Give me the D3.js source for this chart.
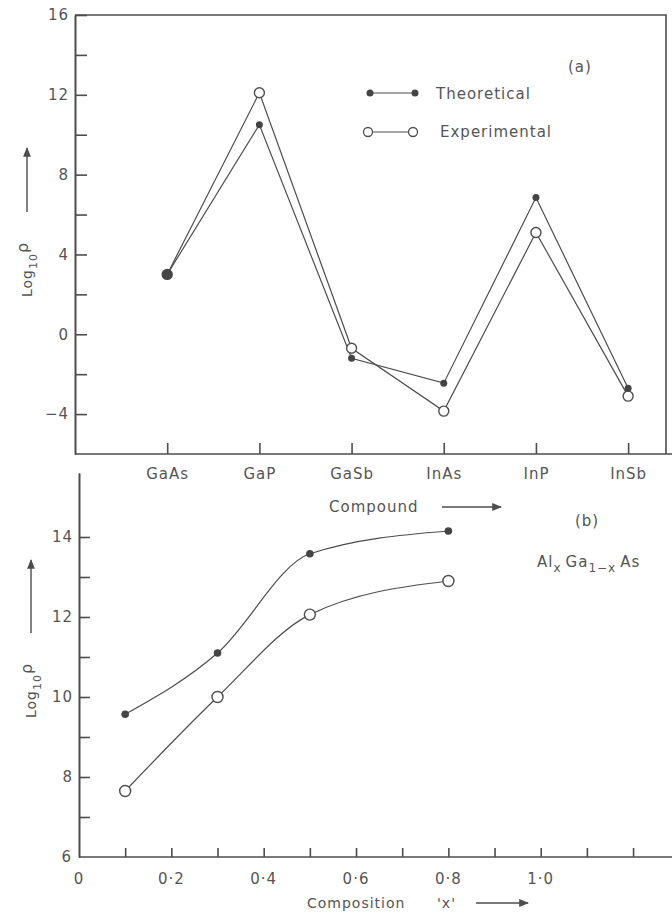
<!DOCTYPE html>
<html>
  <head>
    <meta charset="utf-8">
    <title>Log rho chart</title>
    <script src="https://d3js.org/d3.v7.min.js"></script>
    <style>
      body { margin: 0; background: #fff; }
      text { font-family: "DejaVu Sans", sans-serif; fill: #555; letter-spacing: 1px; }
    </style>
  </head>

  <body>
    <div class="chart"></div>

    <script>
      // panel (a) data
      const compounds = ["GaAs", "GaP", "GaSb", "InAs", "InP", "InSb"];
      const theoA = [3.0, 10.5, -1.2, -2.45, 6.85, -2.7];
      const expA = [3.0, 12.1, -0.7, -3.85, 5.1, -3.1];
      const majorA = [-4, 0, 4, 8, 12, 16];
      const minorA = [-2, 2, 6, 10, 14];

      // panel (b) data
      const compX = [0.1, 0.3, 0.5, 0.8];
      const theoB = [9.57, 11.1, 13.58, 14.15];
      const expB = [7.65, 10.0, 12.06, 12.9];
      const majorB = [8, 10, 12, 14];
      const minorB = [7, 9, 11, 13];
      const xTicksB = [0.1, 0.2, 0.3, 0.4, 0.5, 0.6, 0.7, 0.8, 0.9, 1.0, 1.1, 1.2];
      const xLabelsB = [0.2, 0.4, 0.6, 0.8, 1.0];

      const ink = "#4d4d4d";

      var svg = d3.select("div.chart").append("svg")
        .attr("width", 672)
        .attr("height", 915)

      svg.append("defs").append("marker")
        .attr("id", "arr")
        .attr("viewBox", "0 0 10 10")
        .attr("refX", 9).attr("refY", 5)
        .attr("markerWidth", 7).attr("markerHeight", 7)
        .attr("orient", "auto-start-reverse")
        .append("path").attr("d", "M0,1 L10,5 L0,9 Z").attr("fill", ink)

      // ---------- panel (a) ----------
      var xa = d3.scaleLinear().domain([-1, 5.4]).range([75, 665]);
      var ya = d3.scaleLinear().domain([-6, 16]).range([454, 15]);

      // frame
      svg.append("path")
        .attr("d", `M${xa(-1)},${ya(16)} H666 V${ya(-6)}`)
        .attr("fill", "none").attr("stroke", ink).attr("stroke-width", 1.6)

      var ga = svg.append("g").attr("transform", "translate(75,0)")
        .call(d3.axisLeft(ya).tickValues(majorA).tickSize(-12).tickPadding(6).tickSizeOuter(0))
      svg.append("g").attr("transform", "translate(75,0)")
        .call(d3.axisLeft(ya).tickValues(minorA).tickSize(-12).tickFormat("").tickSizeOuter(0))

      var gax = svg.append("g").attr("transform", `translate(0,${ya(-6)})`)
        .call(d3.axisBottom(xa).tickValues(d3.range(6)).tickSize(-11).tickPadding(14)
          .tickFormat(i => compounds[i]).tickSizeOuter(0))
      gax.select(".domain").attr("d", `M75,0H672`)

      svg.selectAll(".domain, .tick line").attr("stroke", ink).attr("stroke-width", 1.6)
      svg.selectAll(".tick text").style("font-size", "15px").attr("fill", "#555")

      var lineA = d3.line().x((d, i) => xa(i)).y(d => ya(d));
      svg.append("path").datum(theoA).attr("d", lineA)
        .attr("fill", "none").attr("stroke", ink).attr("stroke-width", 1.2)
      svg.append("path").datum(expA).attr("d", lineA)
        .attr("fill", "none").attr("stroke", ink).attr("stroke-width", 1.2)

      svg.selectAll("circle.expA").data(expA).enter().append("circle")
        .attr("class", "expA")
        .attr("cx", (d, i) => xa(i)).attr("cy", d => ya(d)).attr("r", 5)
        .attr("fill", "#fff").attr("stroke", ink).attr("stroke-width", 1.4)
      svg.selectAll("circle.theoA").data(theoA).enter().append("circle")
        .attr("class", "theoA")
        .attr("cx", (d, i) => xa(i)).attr("cy", d => ya(d)).attr("r", (d, i) => i == 0 ? 5 : 3.5)
        .attr("fill", "#444")

      // legend
      svg.append("line").attr("x1", 370).attr("x2", 415).attr("y1", 93).attr("y2", 93)
        .attr("stroke", ink).attr("stroke-width", 1.2)
      svg.selectAll("circle.legT").data([370, 415]).enter().append("circle")
        .attr("cx", d => d).attr("cy", 93).attr("r", 3.5).attr("fill", "#444")
      svg.append("text").attr("x", 436).attr("y", 99).style("font-size", "15px").text("Theoretical")

      svg.append("line").attr("x1", 368).attr("x2", 413).attr("y1", 132).attr("y2", 132)
        .attr("stroke", ink).attr("stroke-width", 1.2)
      svg.selectAll("circle.legE").data([368, 413]).enter().append("circle")
        .attr("cx", d => d).attr("cy", 132).attr("r", 4.5)
        .attr("fill", "#fff").attr("stroke", ink).attr("stroke-width", 1.3)
      svg.append("text").attr("x", 440).attr("y", 137).style("font-size", "15px").text("Experimental")

      svg.append("text").attr("x", 568).attr("y", 72).style("font-size", "15px").text("(a)")

      // y label a
      var yla = svg.append("text").attr("transform", "translate(32,297) rotate(-90)").style("font-size", "14px")
      yla.append("tspan").text("Log")
      yla.append("tspan").attr("dy", 5).style("font-size", "11px").text("10")
      yla.append("tspan").attr("dy", -9).style("font-size", "16px").text("ρ")
      svg.append("line").attr("x1", 27).attr("x2", 27).attr("y1", 212).attr("y2", 148)
        .attr("stroke", ink).attr("stroke-width", 1.4).attr("marker-end", "url(#arr)")

      svg.append("text").attr("x", 329).attr("y", 512).style("font-size", "15px").text("Compound")
      svg.append("line").attr("x1", 442).attr("x2", 501).attr("y1", 507).attr("y2", 507)
        .attr("stroke", ink).attr("stroke-width", 1.4).attr("marker-end", "url(#arr)")

      // ---------- panel (b) ----------
      var xb = d3.scaleLinear().domain([0, 1.28]).range([79, 670]);
      var yb = d3.scaleLinear().domain([6, 15.6]).range([857, 473]);

      var gby = svg.append("g").attr("transform", "translate(79,0)")
        .call(d3.axisLeft(yb).tickValues(majorB).tickSize(-11).tickPadding(6).tickSizeOuter(0))
      svg.append("g").attr("transform", "translate(79,0)")
        .call(d3.axisLeft(yb).tickValues(minorB).tickSize(-11).tickFormat("").tickSizeOuter(0))
      var gbx = svg.append("g").attr("transform", `translate(0,${yb(6)})`)
        .call(d3.axisBottom(xb).tickValues(xTicksB).tickSize(-9).tickFormat("").tickSizeOuter(0))
      gbx.select(".domain").attr("d", "M79,0H672")

      svg.selectAll(".domain, .tick line").attr("stroke", ink).attr("stroke-width", 1.6)
      gby.selectAll(".tick text").style("font-size", "15px").attr("fill", "#555")

      svg.append("text").attr("x", 72).attr("y", 862).attr("text-anchor", "end")
        .style("font-size", "15px").text("6")
      svg.selectAll("text.xlb").data([0].concat(xLabelsB)).enter().append("text")
        .attr("class", "xlb")
        .attr("x", d => xb(d)).attr("y", 884).attr("text-anchor", "middle")
        .style("font-size", "15px")
        .text(d => d == 0 ? "0" : d3.format(".1f")(d).replace(".", "·"))

      var lineB = d3.line().x(d => xb(d[0])).y(d => yb(d[1])).curve(d3.curveMonotoneX);
      svg.append("path").datum(d3.zip(compX, theoB)).attr("d", lineB)
        .attr("fill", "none").attr("stroke", ink).attr("stroke-width", 1.2)
      svg.append("path").datum(d3.zip(compX, expB)).attr("d", lineB)
        .attr("fill", "none").attr("stroke", ink).attr("stroke-width", 1.2)

      svg.selectAll("circle.expB").data(d3.zip(compX, expB)).enter().append("circle")
        .attr("class", "expB")
        .attr("cx", d => xb(d[0])).attr("cy", d => yb(d[1])).attr("r", 5.5)
        .attr("fill", "#fff").attr("stroke", ink).attr("stroke-width", 1.4)
      svg.selectAll("circle.theoB").data(d3.zip(compX, theoB)).enter().append("circle")
        .attr("class", "theoB")
        .attr("cx", d => xb(d[0])).attr("cy", d => yb(d[1])).attr("r", 3.8)
        .attr("fill", "#444")

      svg.append("text").attr("x", 575).attr("y", 526).style("font-size", "15px").text("(b)")
      var ag = svg.append("text").attr("x", 537).attr("y", 567).style("font-size", "15px")
      ag.append("tspan").text("Al")
      ag.append("tspan").attr("dy", 5).style("font-size", "12px").text("x")
      ag.append("tspan").attr("dy", -5).attr("dx", 4).text("Ga")
      ag.append("tspan").attr("dy", 5).style("font-size", "12px").text("1−x")
      ag.append("tspan").attr("dy", -5).attr("dx", 4).text("As")

      // y label b
      var ylb = svg.append("text").attr("transform", "translate(36,718) rotate(-90)").style("font-size", "14px")
      ylb.append("tspan").text("Log")
      ylb.append("tspan").attr("dy", 5).style("font-size", "11px").text("10")
      ylb.append("tspan").attr("dy", -9).style("font-size", "16px").text("ρ")
      svg.append("line").attr("x1", 31).attr("x2", 31).attr("y1", 633).attr("y2", 560)
        .attr("stroke", ink).attr("stroke-width", 1.4).attr("marker-end", "url(#arr)")

      svg.append("text").attr("x", 307).attr("y", 908).style("font-size", "14px").text("Composition")
      svg.append("text").attr("x", 437).attr("y", 908).style("font-size", "14px").text("'x'")
      svg.append("line").attr("x1", 476).attr("x2", 528).attr("y1", 903).attr("y2", 903)
        .attr("stroke", ink).attr("stroke-width", 1.4).attr("marker-end", "url(#arr)")
    </script>

  </body>
</html>
